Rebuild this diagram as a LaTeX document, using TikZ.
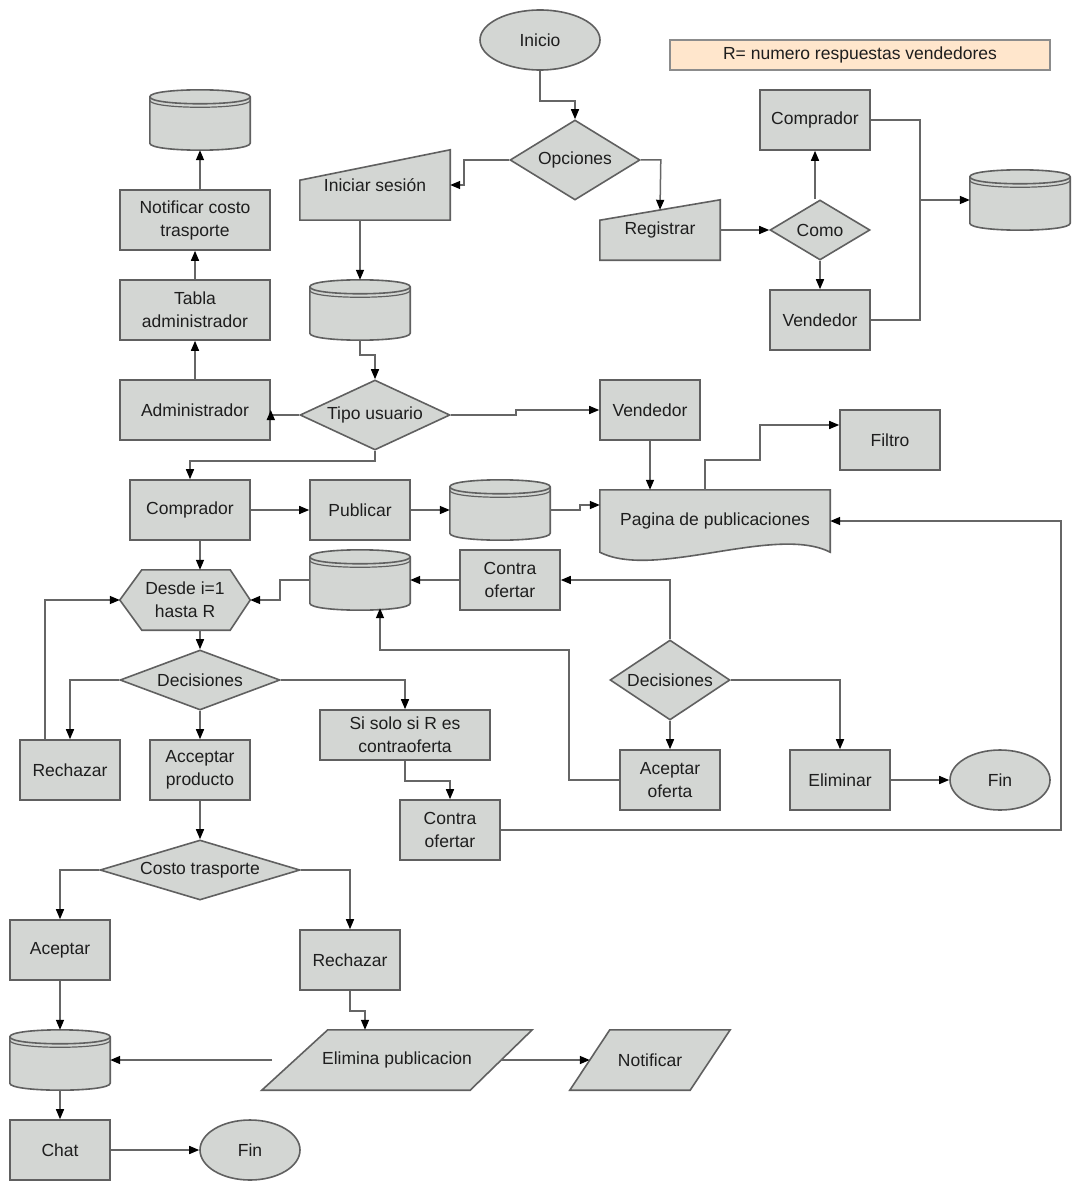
\documentclass[tikz,border=0pt]{standalone}
\usepackage{fontspec}
\setmainfont{Liberation Sans}
\usetikzlibrary{shapes.geometric,arrows.meta,calc}
\definecolor{fillc}{RGB}{211,214,211}
\definecolor{bordc}{RGB}{96,96,96}
\definecolor{linec}{RGB}{102,102,102}
\definecolor{txtc}{RGB}{30,30,30}
\definecolor{legf}{RGB}{255,230,204}
\definecolor{legb}{RGB}{140,140,140}
\pgfdeclarelayer{back}
\pgfdeclarelayer{bg}
\pgfsetlayers{back,bg,main}
\newcommand\dbshape[1]{%
  \draw[shp] ($(#1.north west)+(0,7)$) -- ($(#1.south west)+(0,-7)$)
     .. controls +(0,9.3) and +(0,9.3) .. ($(#1.south east)+(0,-7)$)
     -- ($(#1.north east)+(0,7)$)
     .. controls +(0,-9.3) and +(0,-9.3) .. ($(#1.north west)+(0,7)$) -- cycle;
  \draw[shp,fill=none] ($(#1.north west)+(0,7)$) .. controls +(0,9.3) and +(0,9.3) .. ($(#1.north east)+(0,7)$);
  \draw[shp,fill=none,line width=1.2pt] ($(#1.north west)+(0,10.5)$) .. controls +(0,9.3) and +(0,9.3) .. ($(#1.north east)+(0,10.5)$);
}
\begin{document}
\begin{tikzpicture}[x=1pt,y=-1pt,
  font=\fontsize{17.5}{23}\selectfont,
  base/.style={fill=fillc, draw=bordc, line width=1.6pt, text=txtc, align=center, inner sep=0pt},
  rbox/.style={base, rectangle},
  ell/.style={base, ellipse},
  dia/.style={base, diamond},
  free/.style={text=txtc, align=center, inner sep=0pt, draw=none, fill=none, rectangle},
  sz/.style 2 args={minimum width=#1pt, minimum height=#2pt},
  shp/.style={fill=fillc, draw=bordc, line width=1.6pt},
  arr/.style={draw=linec, line width=1.5pt, -{Triangle[length=10pt,width=8pt,color=black]}},
  ln/.style={draw=linec, line width=1.5pt},
]
\begin{pgfonlayer}{back}
\fill[white] (0,0) rectangle (1080,1190);
\end{pgfonlayer}
\useasboundingbox (0,0) rectangle (1080,1190);

% ---------- nodes ----------
\node[ell, sz={120}{60}] (inicio) at (540,40) {Inicio};
\node[base, fill=legf, draw=legb, line width=1.3pt, sz={380}{30}] (legend) at (860,55) {R= numero respuestas vendedores};
\node[dia, aspect=1.625, sz={130}{80}] (opc) at (575,160) {Opciones};
\node[free, sz={150}{70}] (inis) at (375,185) {Iniciar sesión};
\node[free, sz={120}{60}] (reg) at (660,230) {Registrar};
\node[dia, aspect=1.667, sz={100}{60}] (como) at (820,230) {Como};
\node[rbox, sz={110}{60}] (comp1) at (815,120) {Comprador};
\node[rbox, sz={100}{60}] (vend1) at (820,320) {Vendedor};
\node[free, sz={100}{60}] (db1) at (1020,200) {};
\node[free, sz={100}{60}] (db3) at (200,120) {};
\node[rbox, sz={150}{60}] (notif) at (195,220) {Notificar costo\\trasporte};
\node[rbox, sz={150}{60}] (tabla) at (195,310) {Tabla\\administrador};
\node[rbox, sz={150}{60}] (admin) at (195,410) {Administrador};
\node[free, sz={100}{60}] (db2) at (360,310) {};
\node[dia, aspect=2.14, sz={150}{70}] (tipo) at (375,415) {Tipo usuario};
\node[rbox, sz={100}{60}] (vend2) at (650,410) {Vendedor};
\node[rbox, sz={100}{60}] (filtro) at (890,440) {Filtro};
\node[free, sz={230}{62}] (pag) at (715,521) {Pagina de publicaciones};
\node[rbox, sz={120}{60}] (comp2) at (190,510) {Comprador};
\node[rbox, sz={100}{60}] (pub) at (360,510) {Publicar};
\node[free, sz={100}{60}] (db4) at (500,510) {};
\node[free, sz={130}{60}] (desde) at (185,600) {Desde i=1\\hasta R};
\node[free, sz={100}{60}] (db5) at (360,580) {};
\node[rbox, sz={100}{60}] (cof1) at (510,580) {Contra\\ofertar};
\node[dia, aspect=1.5, sz={120}{80}] (dec2) at (670,680) {Decisiones};
\node[rbox, sz={100}{60}] (acof) at (670,780) {Aceptar\\oferta};
\node[rbox, sz={100}{60}] (elim) at (840,780) {Eliminar};
\node[ell, sz={100}{60}] (fin1) at (1000,780) {Fin};
\node[dia, aspect=2.667, sz={160}{60}] (dec1) at (200,680) {Decisiones};
\node[rbox, sz={100}{60}] (rech1) at (70,770) {Rechazar};
\node[rbox, sz={100}{60}] (acep) at (200,770) {Acceptar\\producto};
\node[rbox, sz={170}{50}] (si) at (405,735) {Si solo si R es\\contraoferta};
\node[rbox, sz={100}{60}] (cof2) at (450,830) {Contra\\ofertar};
\node[dia, aspect=3.333, sz={200}{60}] (costo) at (200,870) {Costo trasporte};
\node[rbox, sz={100}{60}] (acept) at (60,950) {Aceptar};
\node[rbox, sz={100}{60}] (rech2) at (350,960) {Rechazar};
\node[free, sz={100}{60}] (db6) at (60,1060) {};
\node[free, sz={270}{60}] (elp) at (397,1060) {Elimina publicacion};
\node[free, sz={160}{60}] (noti) at (650,1060) {Notificar};
\node[rbox, sz={100}{60}] (chat) at (60,1150) {Chat};
\node[ell, sz={100}{60}] (fin2) at (250,1150) {Fin};

% ---------- custom shapes ----------
\begin{pgfonlayer}{bg}
\draw[shp] (inis.south west) -- ($(inis.south west)+(0,-40)$) -- (inis.north east) -- (inis.south east) -- cycle;
\draw[shp] (reg.south west) -- ($(reg.south west)+(0,-40)$) -- (reg.north east) -- (reg.south east) -- cycle;
\dbshape{db1}
\dbshape{db2}
\dbshape{db3}
\dbshape{db4}
\dbshape{db5}
\dbshape{db6}
\draw[shp] (pag.north west) -- (pag.north east) -- (pag.south east)
   .. controls +(-55,-28) and +(55,28) .. (pag.south west) -- cycle;
\draw[shp] (desde.west) -- ($(desde.north west)+(22,0)$) -- ($(desde.north east)+(-20,0)$) -- (desde.east)
   -- ($(desde.south east)+(-20,0)$) -- ($(desde.south west)+(22,0)$) -- cycle;
\draw[shp] ($(elp.north west)+(66,0)$) -- (elp.north east) -- ($(elp.south east)+(-62,0)$) -- (elp.south west) -- cycle;
\draw[shp] ($(noti.north west)+(40,0)$) -- (noti.north east) -- ($(noti.south east)+(-40,0)$) -- (noti.south west) -- cycle;
\end{pgfonlayer}

% ---------- connectors ----------
\draw[arr] (inicio.south) -- ++(0,30) -| (opc.north);
\draw[arr] (opc.west) -- ++(-45,0) |- (inis.east);
\draw[arr] (opc.east) -- ++(20,0) -- ($(reg.north)+(0,10)$);
\draw[arr] (inis.south -| db2.north) -- (db2.north);
\draw[arr] (reg.east) -- (como.west);
\draw[arr] (como.north -| comp1.south) -- (comp1.south);
\draw[arr] (como.south) -- (vend1.north);
\coordinate (j1) at (920,200);
\draw[ln] (comp1.east) -| (j1);
\draw[ln] (vend1.east) -| (j1);
\draw[arr] (j1) -- (db1.west);
\draw[arr] (db2.south) -- ++(0,15) -| (tipo.north);
\draw[arr] (tipo.west) -- (tipo.west -| admin.east) -- ++(0,-5);
\draw[arr] (admin.north) -- (tabla.south);
\draw[arr] (tabla.north) -- (notif.south);
\draw[arr] (notif.north -| db3.south) -- (db3.south);
\draw[arr] (tipo.east) -- ++(65,0) -- ++(0,-5) -- (vend2.west);
\draw[arr] (tipo.south) -- ++(0,10) -| (comp2.north);
\draw[arr] (vend2.south) -- (vend2.south |- pag.north);
\draw[arr] ($(pag.north west)+(105,0)$) -- ++(0,-30) -- ++(55,0) |- ($(filtro.west)+(0,-15)$);
\draw[arr] (comp2.east) -- (pub.west);
\draw[arr] (pub.east) -- (db4.west);
\draw[arr] (db4.east) -- ++(30,0) -- ++(0,-5) -- ($(pag.west)+(0,-16)$);
\draw[arr] ($(comp2.south)+(10,0)$) -- ($(desde.north)+(15,0)$);
\draw[arr] (db5.west) -- ++(-30,0) |- (desde.east);
\draw[arr] (cof1.west) -- (db5.east);
\draw[arr] (dec2.north) |- (cof1.east);
\draw[arr] (acof.west) -- ++(-50,0) |- ($(db5.south)+(20,40)$) -- ($(db5.south)+(20,-2)$);
\draw[arr] (dec2.south) -- (acof.north);
\draw[arr] (dec2.east) -| (elim.north);
\draw[arr] (elim.east) -- (fin1.west);
\draw[arr] (cof2.east) -- ++(560,0) |- (pag.east);
\draw[arr] ($(desde.south)+(15,0)$) -- (dec1.north);
\draw[arr] (dec1.west) -| (rech1.north);
\draw[arr] ($(rech1.north)+(-25,0)$) |- (desde.west);
\draw[arr] (dec1.south) -- (acep.north);
\draw[arr] (dec1.east) -| (si.north);
\draw[arr] (si.south) -- ++(0,20) -| (cof2.north);
\draw[arr] (acep.south) -- (costo.north);
\draw[arr] (costo.west) -| (acept.north);
\draw[arr] (costo.east) -| (rech2.north);
\draw[arr] (acept.south) -- (db6.north);
\draw[arr] (rech2.south) -- ++(0,20) -| ($(elp.north)+(-32,0)$);
\coordinate (elpin) at (272,1060);
\draw[arr] (elpin) -- (db6.east);
\draw[arr] ($(elp.east)+(-31,0)$) -- ($(noti.west)+(20,0)$);
\draw[arr] (db6.south) -- (chat.north);
\draw[arr] (chat.east) -- (fin2.west);
\end{tikzpicture}
\end{document}
